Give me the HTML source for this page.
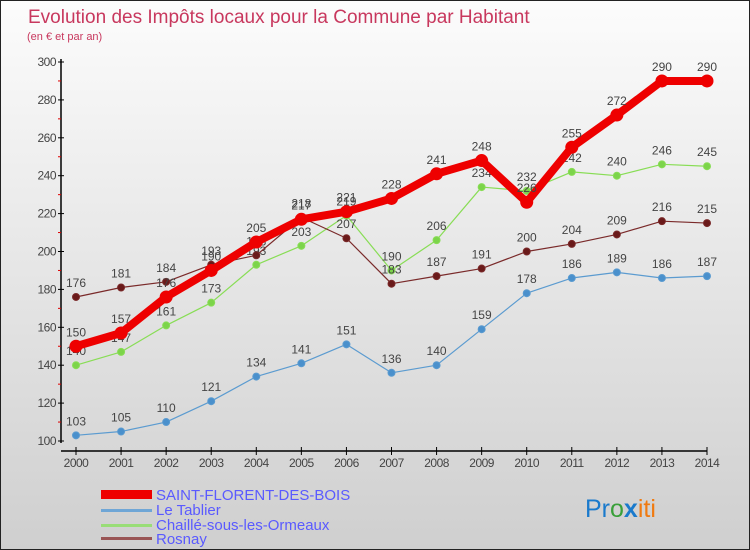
<!DOCTYPE html>
<html><head><meta charset="utf-8"><style>
body{margin:0}
#c{width:750px;height:550px;position:relative;background:linear-gradient(#fcfcfc,#cfcfcf);box-sizing:border-box;border:1px solid #222;overflow:hidden;font-family:"Liberation Sans","DejaVu Sans",sans-serif}
</style></head><body>
<div id="c">
<svg id="s" width="750" height="550" style="position:absolute;left:0;top:0">
<text x="27" y="22" font-size="19" fill="#c8385e">Evolution des Impôts locaux pour la Commune par Habitant</text>
<text x="26" y="39" font-size="11" fill="#c8385e">(en € et par an)</text>
<g id="axes"></g><g id="series"></g>
<g font-size="15" fill="#5a5aff">
<rect x="100" y="489" width="51" height="9" fill="#e00"/>
<text x="155" y="499">SAINT-FLORENT-DES-BOIS</text>
<rect x="100" y="508" width="51" height="3" fill="#6fa6d6"/>
<text x="155" y="514">Le Tablier</text>
<rect x="100" y="523" width="51" height="3" fill="#99dd77"/>
<text x="155" y="529">Chaillé-sous-les-Ormeaux</text>
<rect x="100" y="536" width="51" height="3" fill="#995555"/>
<text x="155" y="543">Rosnay</text>
</g>
<text x="584" y="516" font-size="25"><tspan fill="#1a7acc">Pr</tspan><tspan fill="#3aa03a">o</tspan><tspan fill="#1a7acc" font-weight="bold">x</tspan><tspan fill="#f07a10">iti</tspan></text>
</svg>
</div>
<script>
const years=[2000,2001,2002,2003,2004,2005,2006,2007,2008,2009,2010,2011,2012,2013,2014];
const saint=[150,157,176,190,205,217,221,228,241,248,226,255,272,290,290];
const tablier=[103,105,110,121,134,141,151,136,140,159,178,186,189,186,187];
const chaille=[140,147,161,173,193,203,219,190,206,234,232,242,240,246,245];
const rosnay=[176,181,184,193,198,218,207,183,187,191,200,204,209,216,215];
const yTicks=[100,120,140,160,180,200,220,240,260,280,300];
const NS="http://www.w3.org/2000/svg";
const X=i=>75+i*(706-75)/(years.length-1);
const Y=v=>440-(v-100)*(440-61)/200;
function mk(t,a,p){const e=document.createElementNS(NS,t);for(const k in a)e.setAttribute(k,a[k]);p.appendChild(e);return e;}
const ax=document.getElementById('axes');
mk('line',{x1:60,y1:58,x2:60,y2:442,stroke:'#000','stroke-width':1.5},ax);
mk('line',{x1:60,y1:450,x2:706,y2:450,stroke:'#000','stroke-width':1.5},ax);
yTicks.forEach(v=>{
 mk('line',{x1:57,x2:63,y1:Y(v),y2:Y(v),stroke:'#000'},ax);
 if(v<300)mk('line',{x1:57,x2:60,y1:Y(v+10),y2:Y(v+10),stroke:'#d00'},ax);
 const t=mk('text',{x:55,y:Y(v)+4,'text-anchor':'end','font-size':12,fill:'#444','letter-spacing':'-0.5'},ax);t.textContent=v;
 
 
});
years.forEach((y,i)=>{
 mk('line',{x1:X(i),x2:X(i),y1:446,y2:454,stroke:'#000'},ax);
 const t=mk('text',{x:X(i),y:466,'text-anchor':'middle','font-size':12,fill:'#444','letter-spacing':'-0.5'},ax);t.textContent=y;
 
 
});
const sg=document.getElementById('series');
function series(d,col,dot,w,r,name){
 const g=mk('g',{},sg);
 
 
 mk('polyline',{points:d.map((v,i)=>X(i)+','+Y(v)).join(' '),fill:'none',stroke:col,'stroke-width':w,'stroke-linejoin':'round'},g);
 d.forEach((v,i)=>{
  const c=mk('circle',{cx:X(i),cy:Y(v),r:r,fill:dot,stroke:col,'stroke-width':1},g);
  
  
  const t=mk('text',{x:X(i),y:Y(v)-10,'text-anchor':'middle','font-size':12,fill:'#444'},g);t.textContent=v;
  
  
 });
}
series(tablier,'#5b9bd0','#4a90cc',1.2,3.5,'series-le-tablier');
series(chaille,'#88dd55','#7cd44a',1.2,3.5,'series-chaille');
series(rosnay,'#7a2a2a','#6a1a1a',1.2,3.5,'series-rosnay');
series(saint,'#ee0000','#ee0000',8,6,'series-saint-florent');
</script>
</body></html>
